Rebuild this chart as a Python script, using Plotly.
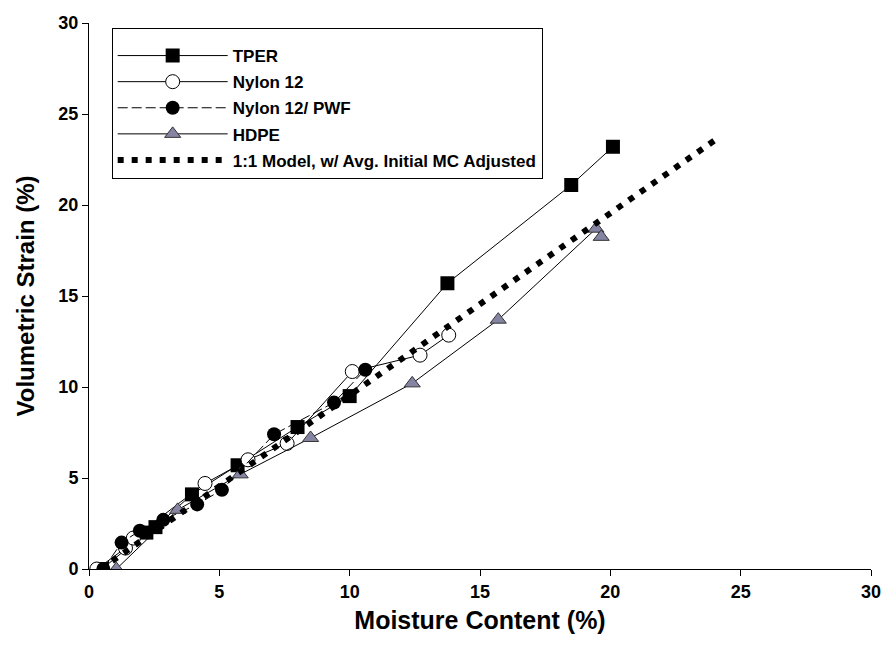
import plotly.graph_objects as go

# Moisture content (%) vs volumetric strain (%) for each material
tper_x = [0.5, 2.2, 2.55, 3.95, 5.7, 8.0, 10.0, 13.75, 18.5, 20.1]
tper_y = [0.0, 2.0, 2.3, 4.1, 5.7, 7.8, 9.5, 15.7, 21.1, 23.2]

nylon_x = [0.3, 1.4, 1.7, 4.45, 6.1, 7.6, 10.1, 12.7, 13.8]
nylon_y = [0.0, 1.15, 1.7, 4.7, 6.0, 6.9, 10.85, 11.75, 12.85]

pwf_x = [0.55, 1.25, 1.95, 2.85, 4.15, 5.1, 7.1, 9.4, 10.6]
pwf_y = [0.0, 1.45, 2.1, 2.7, 3.55, 4.35, 7.4, 9.15, 10.95]

hdpe_x = [1.05, 3.4, 5.8, 8.5, 12.4, 15.7, 19.45, 19.65]
hdpe_y = [0.0, 3.25, 5.2, 7.2, 10.2, 13.7, 18.7, 18.25]

# 1:1 model shifted by the average initial moisture content
model_x = [0.45, 24.1]
model_y = [0.0, 23.65]

axis_ticks = [0, 5, 10, 15, 20, 25, 30]

FONT = "Liberation Sans, Arial, sans-serif"

fig = go.Figure()

fig.add_trace(go.Scatter(
    x=tper_x, y=tper_y, mode="lines+markers", name="TPER", legendgroup="a",
    line=dict(color="black", width=1),
    marker=dict(symbol="square", size=14, color="black"),
))
fig.add_trace(go.Scatter(
    x=nylon_x, y=nylon_y, mode="lines+markers", name="Nylon 12", legendgroup="b",
    line=dict(color="black", width=1),
    marker=dict(symbol="circle", size=14, color="white",
                line=dict(color="black", width=1)),
))
fig.add_trace(go.Scatter(
    x=pwf_x, y=pwf_y, mode="lines+markers", name="Nylon 12/ PWF", legendgroup="c",
    line=dict(color="black", width=1, dash="10px,4px"),
    marker=dict(symbol="circle", size=14, color="black"),
))
fig.add_trace(go.Scatter(
    x=hdpe_x, y=hdpe_y, mode="lines+markers", name="HDPE", legendgroup="d",
    line=dict(color="black", width=1),
    marker=dict(symbol="triangle-up", size=14, color="#8585A3",
                line=dict(color="#333333", width=1)),
))
fig.add_trace(go.Scatter(
    x=model_x, y=model_y, mode="lines",
    name="1:1 Model, w/ Avg. Initial MC Adjusted", legendgroup="e",
    line=dict(color="black", width=6, dash="6px,8px"),
))

axis_common = dict(
    range=[0, 30], tickvals=axis_ticks, showgrid=False, zeroline=False,
    showline=True, linecolor="black", linewidth=1,
    ticks="outside", ticklen=6, tickcolor="black",
    tickfont=dict(family=FONT, size=18, color="black", weight="bold"),
)

fig.update_layout(
    width=893, height=649,
    margin=dict(l=89, r=13, t=23, b=80),
    paper_bgcolor="white", plot_bgcolor="white",
    font=dict(family=FONT, color="black"),
    xaxis=dict(**axis_common,
               title=dict(text="Moisture Content (%)", standoff=10,
                          font=dict(family=FONT, size=25, weight="bold"))),
    yaxis=dict(**axis_common,
               title=dict(text="Volumetric Strain (%)", standoff=16,
                          font=dict(family=FONT, size=24, weight="bold"))),
    legend=dict(
        x=0.029, y=0.991, xanchor="left", yanchor="top",
        bgcolor="white", bordercolor="black", borderwidth=1,
        font=dict(family=FONT, size=17, weight="bold", color="black"),
        title=dict(text=" ", font=dict(size=7)),
        tracegroupgap=1, itemwidth=110,
    ),
)

fig.write_html("out.html")
